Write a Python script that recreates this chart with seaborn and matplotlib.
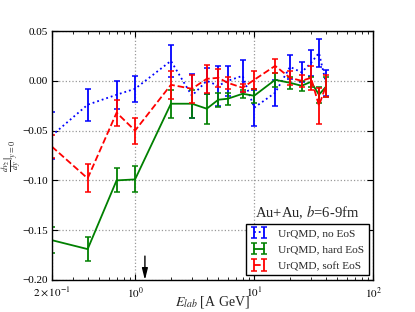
import numpy as np
import matplotlib
matplotlib.use("Agg")
import matplotlib.pyplot as plt
import matplotlib.ticker as mticker
from matplotlib.container import ErrorbarContainer
import seaborn as sns

energy = [0.2, 0.4, 0.7, 1.0, 2, 3, 4, 5, 6, 8, 10, 15, 20, 25, 30, 35, 40]

v2_no_eos = [-0.055, -0.024, -0.014, -0.008, 0.020, -0.015, 0.000, -0.005, 0.000,
             0.005, -0.027, -0.012, 0.014, 0.0085, 0.018, 0.028, -0.002]
err_no_eos = [0.024, 0.016, 0.014, 0.013, 0.016, 0.022, 0.013, 0.020, 0.015,
              0.016, 0.018, 0.013, 0.012, 0.010, 0.013, 0.014, 0.013]

v2_hard = [-0.160, -0.169, -0.100, -0.099, -0.023, -0.023, -0.028, -0.019, -0.018,
           -0.013, -0.015, 0.001, -0.002, -0.005, -0.001, -0.014, -0.006]
err_hard = [0.013, 0.012, 0.012, 0.013, 0.014, 0.014, 0.015, 0.007, 0.006,
            0.004, 0.007, 0.007, 0.006, 0.005, 0.005, 0.008, 0.010]

v2_soft = [-0.066, -0.098, -0.032, -0.050, -0.004, -0.008, 0.002, 0.003, -0.002,
           -0.007, 0.001, 0.015, 0.003, 0.000, 0.003, -0.025, -0.005]
err_soft = [0.012, 0.014, 0.013, 0.013, 0.014, 0.014, 0.014, 0.009, 0.006,
            0.004, 0.009, 0.007, 0.007, 0.006, 0.012, 0.018, 0.011]

labels = ["UrQMD, no EoS", "UrQMD, hard EoS", "UrQMD, soft EoS"]
y_ticks = [0.05, 0.00, -0.05, -0.10, -0.15, -0.20]
x_ticks = [0.2, 1, 10, 100]
x_ticklabels = [r"$2\times10^{-1}$", r"$10^{0}$", r"$10^{1}$", r"$10^{2}$"]
arrow_energy = 1.21

sns.set_style("ticks")
plt.rcParams["font.family"] = ["Liberation Serif", "DejaVu Serif"]
plt.rcParams["mathtext.fontset"] = "stix"
plt.rcParams["font.size"] = 8.5

fig = plt.figure(figsize=(4.15, 3.12), dpi=100)
ax = fig.add_axes([0.1248, 0.1026, 0.7747, 0.798])

series = [
    (v2_no_eos, err_no_eos, "blue", ":"),
    (v2_hard, err_hard, "green", "-"),
    (v2_soft, err_soft, "red", "--"),
]

handles = []
for (vals, errs, col, ls), lab in zip(series, labels):
    sns.lineplot(x=energy, y=vals, color=col, linestyle=ls, lw=1.3, ax=ax,
                 legend=False, sort=False)
    line = ax.lines[-1]
    eb = ax.errorbar(energy, vals, yerr=errs, fmt="none", ecolor=col,
                     elinewidth=1.3, capsize=2, capthick=1.1)
    handles.append(ErrorbarContainer((line, eb.lines[1], eb.lines[2]),
                                     has_xerr=False, has_yerr=True, label=lab))

ax.set_xscale("log")
ax.set_xlim(0.2, 100)
ax.set_ylim(-0.20, 0.05)
ax.set_xticks(x_ticks)
ax.set_xticklabels(x_ticklabels)
ax.xaxis.set_minor_locator(mticker.LogLocator(base=10, subs=np.arange(2, 10), numticks=20))
ax.xaxis.set_minor_formatter(mticker.NullFormatter())
ax.set_yticks(y_ticks)
ax.set_yticklabels([f"{t:.2f}".replace("-", "\u2212") for t in y_ticks])

ax.tick_params(which="both", direction="in", top=True, right=True, colors="black",
               labelsize=8)
ax.tick_params(axis="x", pad=4)
ax.tick_params(axis="y", pad=3)
ax.tick_params(which="major", length=4, width=0.8)
ax.tick_params(which="minor", length=2, width=0.6)
for sp in ax.spines.values():
    sp.set_color("black")
    sp.set_linewidth(1.0)

ax.grid(True, which="major", linestyle=":", color="#999999", linewidth=0.9)

ax.set_xlabel(r"$E_{lab}$ [A GeV]", fontsize=10, va="top")
ax.xaxis.set_label_coords(0.5, -0.058)
ax.set_ylabel(r"$\frac{dv_2}{dy}|_{y=0}$", fontsize=8.5)
ax.yaxis.set_label_coords(-0.084, 0.5)

ax.text(0.632, 0.273, r"Au+Au, $b$=6-9fm", transform=ax.transAxes, fontsize=10.5,
        va="center", ha="left")

ax.annotate("", xy=(arrow_energy, -0.2), xytext=(arrow_energy, -0.176),
            arrowprops=dict(arrowstyle="-|>,head_length=0.8,head_width=0.2",
                            color="black", lw=1.0, shrinkA=0, shrinkB=0))

leg = ax.legend(handles=handles, loc="lower right", numpoints=2, fontsize=8.2,
                frameon=True, fancybox=False, framealpha=1, edgecolor="black",
                handlelength=1.5, handletextpad=0.9, borderaxespad=0.4,
                labelspacing=0.55, borderpad=0.4)
leg.get_frame().set_linewidth(1.0)

fig.savefig("out.png", dpi=100)
